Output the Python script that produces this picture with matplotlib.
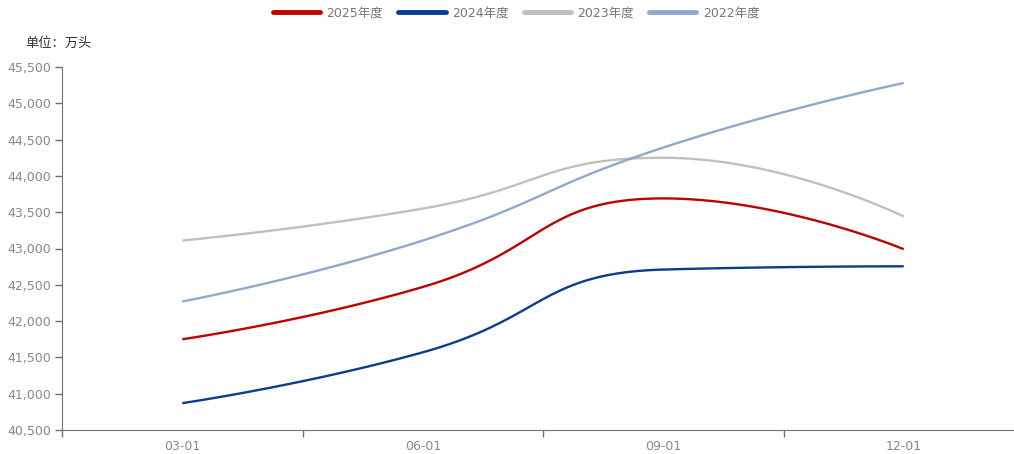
import numpy as np
import matplotlib
matplotlib.use('Agg')
import matplotlib.pyplot as plt
from matplotlib.lines import Line2D
from matplotlib.ticker import FuncFormatter, MultipleLocator

plt.rcParams['font.family'] = ['DejaVu Sans', 'Noto Sans CJK SC']
plt.rcParams['axes.unicode_minus'] = False

# 数据
dates = ['03-01', '06-01', '09-01', '12-01']
y2025 = [41750, 42470, 43690, 42990]
y2024 = [40870, 41570, 42710, 42755]
y2023 = [43110, 43550, 44250, 43440]
y2022 = [42270, 43110, 44390, 45280]

names = ['2025年度', '2024年度', '2023年度', '2022年度']
colors = ['#C00000', '#0C3C8C', '#C0C0C0', '#8EA9D0']


def smooth_path(px, py, smooth=0.5, steps=40):
    # echarts 风格的平滑曲线（控制点夹紧）
    n = len(px)
    out_x = [px[0]]
    out_y = [py[0]]
    cpx0, cpy0 = px[0], py[0]
    prevX, prevY = px[0], py[0]
    for i in range(1, n):
        x, y = px[i], py[i]
        if i == n - 1:
            cpx1, cpy1 = x, y
            nextCpx0, nextCpy0 = x, y
        else:
            nextX, nextY = px[i + 1], py[i + 1]
            vx = nextX - prevX
            vy = nextY - prevY
            lenPrev = np.hypot(x - prevX, y - prevY)
            lenNext = np.hypot(nextX - x, nextY - y)
            ratio = lenNext / (lenNext + lenPrev)
            nextCpx0 = x + vx * smooth * ratio
            nextCpy0 = y + vy * smooth * ratio
            nextCpx0 = min(nextCpx0, max(nextX, x))
            nextCpy0 = min(nextCpy0, max(nextY, y))
            nextCpx0 = max(nextCpx0, min(nextX, x))
            nextCpy0 = max(nextCpy0, min(nextY, y))
            vx = nextCpx0 - x
            vy = nextCpy0 - y
            cpx1 = x - vx * lenPrev / lenNext
            cpy1 = y - vy * lenPrev / lenNext
            cpx1 = min(cpx1, max(prevX, x))
            cpy1 = min(cpy1, max(prevY, y))
            cpx1 = max(cpx1, min(prevX, x))
            cpy1 = max(cpy1, min(prevY, y))
            vx = x - cpx1
            vy = y - cpy1
            nextCpx0 = x + vx * lenNext / lenPrev
            nextCpy0 = y + vy * lenNext / lenPrev
        t = np.linspace(0, 1, steps)[1:]
        bx = (1 - t) ** 3 * prevX + 3 * (1 - t) ** 2 * t * cpx0 + 3 * (1 - t) * t ** 2 * cpx1 + t ** 3 * x
        by = (1 - t) ** 3 * prevY + 3 * (1 - t) ** 2 * t * cpy0 + 3 * (1 - t) * t ** 2 * cpy1 + t ** 3 * y
        out_x.extend(bx)
        out_y.extend(by)
        cpx0, cpy0 = nextCpx0, nextCpy0
        prevX, prevY = x, y
    return np.array(out_x), np.array(out_y)


W, H = 1014, 454
fig = plt.figure(figsize=(W / 100, H / 100), dpi=100)
# 右端超出画布一点，和原图一致
ax = fig.add_axes([62 / W, (H - 430) / H, 962 / W, (430 - 67) / H])

ax.set_xlim(-0.5, len(dates) - 0.5)
ax.set_ylim(40500, 45500)

xs = np.arange(len(dates))
for vals, name, c in zip([y2025, y2024, y2023, y2022], names, colors):
    pts = ax.transData.transform(np.column_stack([xs, vals]))
    sx, sy = smooth_path(pts[:, 0], pts[:, 1])
    dpts = ax.transData.inverted().transform(np.column_stack([sx, sy]))
    ax.plot(dpts[:, 0], dpts[:, 1], color=c, lw=1.7, solid_capstyle='butt')

# 坐标轴样式
for s in ['top', 'right']:
    ax.spines[s].set_visible(False)
ax.spines['left'].set_color('#6E7079')
ax.spines['bottom'].set_color('#6E7079')

ax.yaxis.set_major_locator(MultipleLocator(500))
ax.yaxis.set_major_formatter(FuncFormatter(lambda v, p: '{:,.0f}'.format(v)))
ax.tick_params(axis='y', colors='#6E7079', labelcolor='#888888', labelsize=9, length=5, width=1, pad=3)

ax.set_xticks(xs)
ax.set_xticklabels(dates)
ax.set_xticks(np.arange(-0.5, len(dates), 1), minor=True)
ax.tick_params(axis='x', which='major', length=0, labelcolor='#888888', labelsize=9, pad=7)
ax.tick_params(axis='x', which='minor', length=5, width=1, colors='#6E7079')

fig.text(25 / W, 1 - 43 / H, '单位：万头', fontsize=9.5, color='#333333', va='center')

handles = [Line2D([0], [0], color=c, lw=3.5, solid_capstyle='round') for c in colors]
fig.legend(handles, names, loc='center', bbox_to_anchor=(516 / W, 1 - 13 / H), ncol=4,
           frameon=False, fontsize=9, labelcolor='#777777', handlelength=3.8,
           handletextpad=0.5, columnspacing=1.2)

fig.savefig('out.png', dpi=100)
